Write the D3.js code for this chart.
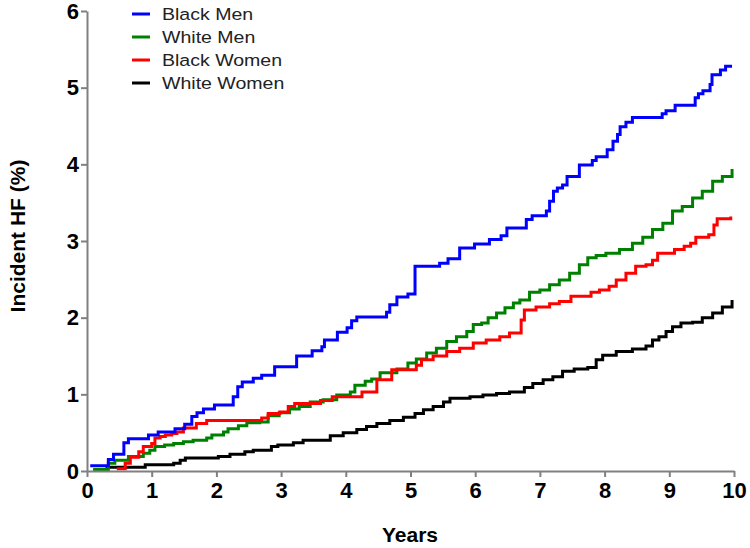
<!DOCTYPE html>
<html>
<head>
<meta charset="utf-8">
<script src="https://cdn.jsdelivr.net/npm/d3@7"></script>
<style>
  body { margin: 0; background: #fff; }
  svg { display: block; }
  .tick text { font-family: "Liberation Sans", Arial, sans-serif; font-weight: bold; font-size: 22px; fill: #000; }
</style>
</head>
<body>
<svg id="chart" width="750" height="548"></svg>
<script>
// cumulative incidence, [years, percent]
const blackMen = [[0.05,0.07],[0.33,0.15],[0.41,0.22],[0.57,0.37],[0.64,0.42],[0.95,0.47],[1.10,0.51],[1.36,0.55],[1.51,0.61],[1.62,0.71],[1.70,0.76],[1.80,0.81],[1.97,0.86],[2.26,0.97],[2.33,1.10],[2.40,1.16],[2.57,1.21],[2.70,1.25],[2.90,1.36],[3.24,1.50],[3.48,1.57],[3.63,1.62],[3.67,1.71],[3.87,1.81],[4.02,1.87],[4.09,1.96],[4.17,2.01],[4.63,2.07],[4.68,2.17],[4.79,2.27],[4.96,2.31],[5.07,2.67],[5.45,2.71],[5.58,2.77],[5.76,2.91],[5.99,2.96],[6.22,3.02],[6.40,3.07],[6.49,3.17],[6.79,3.28],[6.88,3.33],[7.10,3.39],[7.15,3.52],[7.21,3.65],[7.27,3.69],[7.35,3.73],[7.42,3.84],[7.61,3.99],[7.81,4.05],[7.87,4.10],[8.04,4.19],[8.13,4.30],[8.20,4.39],[8.24,4.49],[8.33,4.55],[8.43,4.61],[8.89,4.66],[8.95,4.70],[9.09,4.77],[9.40,4.87],[9.45,4.92],[9.52,4.96],[9.63,5.04],[9.66,5.17],[9.79,5.23],[9.87,5.28],[9.97,5.28]];
const whiteMen = [[0.10,0.02],[0.33,0.10],[0.43,0.14],[0.64,0.19],[0.87,0.23],[0.97,0.27],[1.05,0.32],[1.20,0.34],[1.34,0.36],[1.49,0.38],[1.64,0.40],[1.85,0.43],[1.93,0.47],[2.11,0.51],[2.18,0.55],[2.34,0.59],[2.47,0.63],[2.67,0.64],[2.80,0.72],[2.97,0.76],[3.13,0.81],[3.28,0.84],[3.45,0.90],[3.65,0.93],[3.86,0.99],[4.07,1.03],[4.14,1.12],[4.30,1.17],[4.40,1.20],[4.53,1.28],[4.79,1.33],[4.96,1.41],[5.09,1.46],[5.25,1.54],[5.40,1.60],[5.56,1.69],[5.71,1.75],[5.87,1.82],[5.97,1.91],[6.10,1.93],[6.20,2.00],[6.33,2.06],[6.46,2.13],[6.59,2.19],[6.69,2.23],[6.84,2.33],[7.00,2.36],[7.15,2.43],[7.30,2.49],[7.46,2.58],[7.61,2.69],[7.74,2.78],[7.87,2.81],[8.02,2.84],[8.23,2.89],[8.43,2.97],[8.59,3.05],[8.74,3.15],[8.90,3.23],[9.05,3.39],[9.20,3.45],[9.36,3.56],[9.51,3.65],[9.67,3.78],[9.82,3.84],[9.97,3.94]];
const blackWomen = [[0.46,0.03],[0.59,0.10],[0.67,0.18],[0.80,0.25],[0.87,0.32],[1.00,0.36],[1.05,0.43],[1.13,0.45],[1.21,0.47],[1.31,0.49],[1.39,0.51],[1.49,0.56],[1.69,0.62],[1.85,0.66],[2.70,0.69],[2.80,0.75],[2.98,0.77],[3.11,0.84],[3.21,0.88],[3.61,0.92],[3.79,0.97],[4.25,1.03],[4.48,1.19],[4.71,1.32],[5.09,1.38],[5.17,1.45],[5.35,1.50],[5.56,1.56],[5.76,1.60],[5.97,1.67],[6.17,1.71],[6.38,1.75],[6.53,1.80],[6.71,1.97],[6.76,2.10],[6.94,2.14],[7.15,2.18],[7.30,2.21],[7.48,2.28],[7.79,2.33],[7.92,2.36],[8.07,2.41],[8.18,2.49],[8.33,2.58],[8.48,2.67],[8.64,2.69],[8.74,2.75],[8.82,2.84],[9.08,2.89],[9.23,2.93],[9.33,2.97],[9.41,3.05],[9.61,3.08],[9.69,3.21],[9.74,3.29],[9.95,3.32]];
const whiteWomen = [[0.10,0.02],[0.31,0.05],[0.90,0.08],[1.34,0.10],[1.44,0.14],[1.52,0.17],[2.03,0.19],[2.21,0.22],[2.44,0.25],[2.57,0.27],[2.85,0.32],[2.95,0.34],[3.19,0.37],[3.34,0.40],[3.76,0.46],[3.96,0.50],[4.17,0.54],[4.32,0.58],[4.48,0.62],[4.68,0.66],[4.89,0.70],[5.07,0.75],[5.20,0.80],[5.35,0.84],[5.51,0.90],[5.61,0.95],[5.92,0.97],[6.12,0.99],[6.33,1.01],[6.53,1.03],[6.76,1.09],[6.89,1.14],[7.05,1.19],[7.20,1.23],[7.35,1.30],[7.53,1.33],[7.74,1.35],[7.87,1.45],[7.97,1.51],[8.18,1.56],[8.43,1.59],[8.64,1.63],[8.74,1.71],[8.84,1.75],[8.95,1.82],[9.05,1.88],[9.18,1.93],[9.36,1.94],[9.51,2.00],[9.67,2.06],[9.82,2.14],[9.97,2.23]];

const seriesNames = ['Black Men', 'White Men', 'Black Women', 'White Women'];
const seriesData = [blackMen, whiteMen, blackWomen, whiteWomen];
const colors = ['#0000ff', '#008000', '#ff0000', '#000000'];
const xTicks = [0, 1, 2, 3, 4, 5, 6, 7, 8, 9, 10];
const yTicks = [0, 1, 2, 3, 4, 5, 6];

const svg = d3.select('#chart');
const x = d3.scaleLinear().domain([0, 10]).range([87, 734]);
const y = d3.scaleLinear().domain([0, 6]).range([471, 11]);

const line = d3.line()
    .x(d => x(d[0]))
    .y(d => y(d[1]))
    .curve(d3.curveStepAfter);

// draw order: white women underneath, blue on top
[3, 1, 2, 0].forEach(i => {
    svg.append('path')
        .datum(seriesData[i])
        .attr('d', line)
        .attr('fill', 'none')
        .attr('stroke', colors[i])
        .attr('stroke-width', 3);
});

const xAxis = svg.append('g')
    .attr('transform', `translate(0,${y(0)})`)
    .call(d3.axisBottom(x).tickValues(xTicks).tickFormat(d3.format('d'))
        .tickSize(6).tickSizeOuter(0).tickPadding(5));
const yAxis = svg.append('g')
    .attr('transform', `translate(${x(0)},0)`)
    .call(d3.axisLeft(y).tickValues(yTicks).tickFormat(d3.format('d'))
        .tickSize(6).tickSizeOuter(0).tickPadding(2));
[xAxis, yAxis].forEach(g => {
    g.attr('font-family', null).attr('font-size', null);
    g.select('.domain').attr('stroke', '#808080').attr('stroke-width', 2);
    g.selectAll('.tick line').attr('stroke', '#808080').attr('stroke-width', 2);
});

svg.append('text')
    .attr('transform', 'translate(25,236) rotate(-90)')
    .attr('text-anchor', 'middle')
    .style('font-family', '"Liberation Sans", Arial, sans-serif')
    .style('font-weight', 'bold')
    .style('font-size', '21px')
    .text('Incident HF (%)');

svg.append('text')
    .attr('x', 410)
    .attr('y', 542)
    .attr('text-anchor', 'middle')
    .style('font-family', '"Liberation Sans", Arial, sans-serif')
    .style('font-weight', 'bold')
    .style('font-size', '21px')
    .text('Years');

const legend = svg.append('g')
    .selectAll('g')
    .data(seriesNames)
    .enter()
    .append('g')
    .attr('transform', (d, i) => `translate(0,${14 + i * 23})`);
legend.append('line')
    .attr('x1', 132)
    .attr('x2', 150)
    .attr('stroke', (d, i) => colors[i])
    .attr('stroke-width', 3);
legend.append('text')
    .attr('transform', 'translate(162,0) scale(1.15,1)')
    .attr('dy', '0.36em')
    .style('font-family', '"Liberation Sans", Arial, sans-serif')
    .style('font-size', '17px')
    .style('fill', '#222')
    .text(d => d);
</script>
</body>
</html>
